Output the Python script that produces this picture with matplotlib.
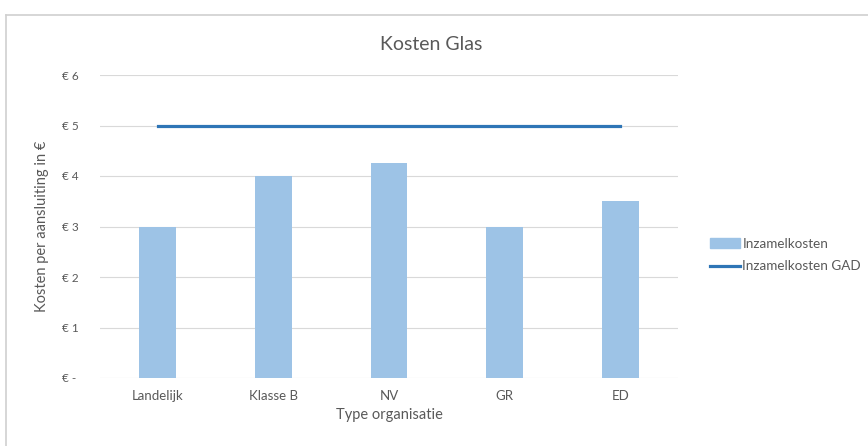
import matplotlib.pyplot as plt
from matplotlib.lines import Line2D
from matplotlib.patches import Patch

categories = ['Landelijk', 'Klasse B', 'NV', 'GR', 'ED']
inzamelkosten = [3.0, 4.0, 4.25, 3.0, 3.5]
inzamelkosten_gad = [5.0, 5.0, 5.0, 5.0, 5.0]
ytick_vals = [0, 1, 2, 3, 4, 5, 6]
ytick_labels = ['€ -', '€ 1', '€ 2', '€ 3', '€ 4', '€ 5', '€ 6']

plt.rcParams['font.family'] = ['Lato', 'DejaVu Sans']

W, H = 868, 446
fig = plt.figure(figsize=(W / 100, H / 100), dpi=100)
ax = fig.add_axes([100 / W, (H - 378) / H, 578 / W, 303 / H])

bar_color = '#9dc3e6'
line_color = '#2e75b6'
text_color = '#595959'

x = range(len(categories))
ax.bar(x, inzamelkosten, width=0.32, color=bar_color, zorder=2)
ax.plot(x, inzamelkosten_gad, color=line_color, linewidth=2.3, zorder=3)

ax.set_xlim(-0.5, len(categories) - 0.5)
ax.set_ylim(0, 6)
ax.set_yticks(ytick_vals)
ax.set_yticklabels(ytick_labels)
ax.set_xticks(list(x))
ax.set_xticklabels(categories)
ax.tick_params(axis='both', length=0, colors=text_color)
ax.tick_params(axis='x', pad=9, labelsize=9.5)
ax.tick_params(axis='y', pad=27, labelsize=8.5)
for lab in ax.get_yticklabels():
    lab.set_horizontalalignment('left')

ax.grid(axis='y', color='#d9d9d9', linewidth=0.8, zorder=0)
for s in ax.spines.values():
    s.set_visible(False)

ax.set_xlabel('Type organisatie', color=text_color, fontsize=10.5, labelpad=4)
ax.set_ylabel('Kosten per aansluiting in €', color=text_color, fontsize=10.5, labelpad=10)

fig.text(0.497, (H - 45) / H, 'Kosten Glas', ha='center', va='center',
         fontsize=14, color=text_color)

handles = [Patch(color=bar_color), Line2D([0], [0], color=line_color, linewidth=2.3)]
fig.legend(handles, ['Inzamelkosten', 'Inzamelkosten GAD'],
           loc='center left', bbox_to_anchor=(698 / W, (H - 255) / H),
           frameon=False, fontsize=9.7, labelcolor=text_color,
           handlelength=2.2, handletextpad=0.2, labelspacing=0.8)

# chart border (left and top edges visible in the reference)
fig.add_artist(Line2D([6 / W, 6 / W], [0, (H - 15) / H], color='#d0d0d0', linewidth=1.2))
fig.add_artist(Line2D([6 / W, 1], [(H - 15) / H, (H - 15) / H], color='#d0d0d0', linewidth=1.2))

fig.savefig('out.png', dpi=100)
